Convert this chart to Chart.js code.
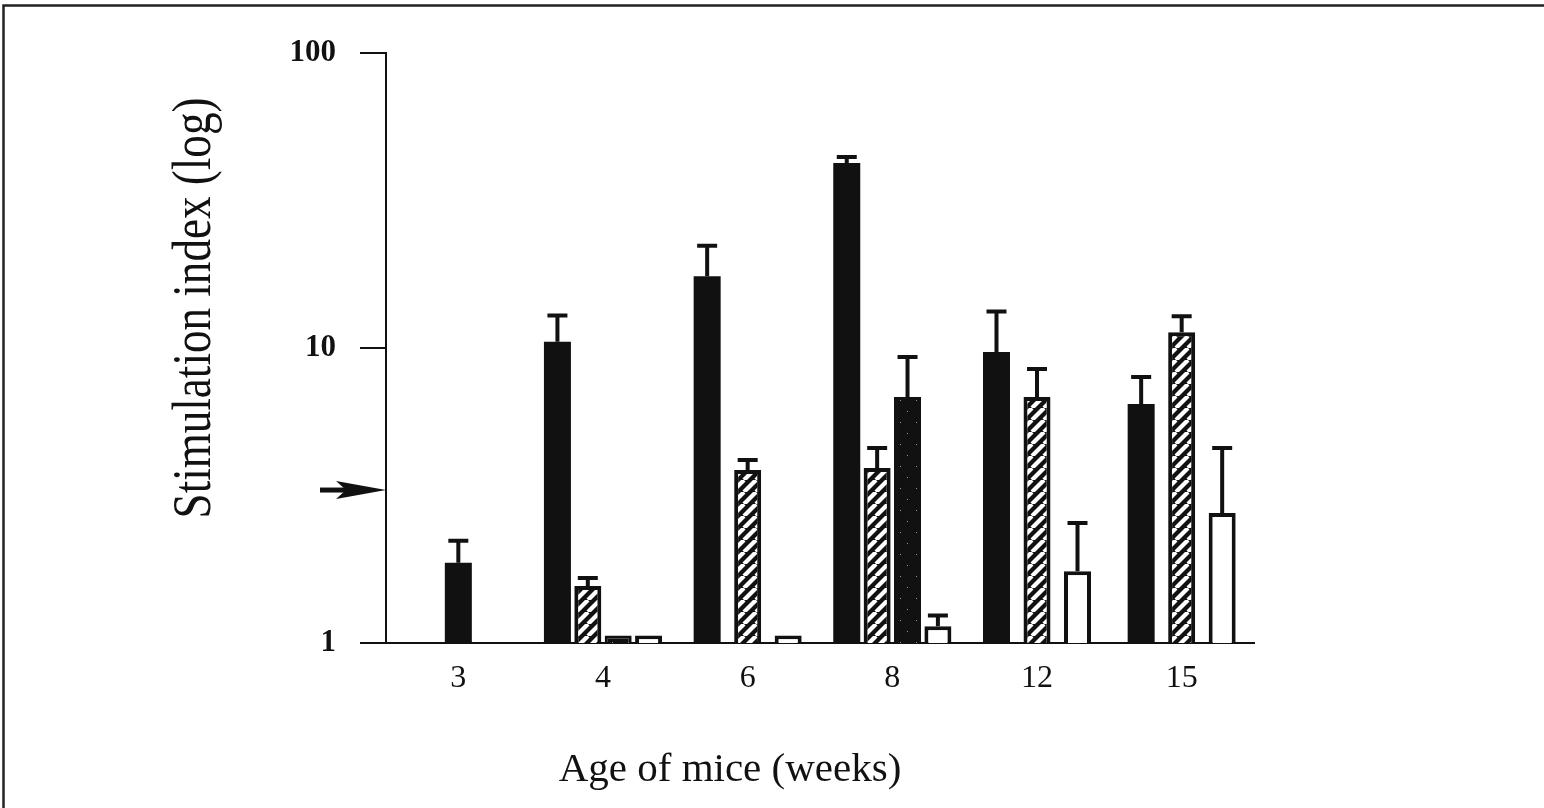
<!DOCTYPE html>
<html>
<head>
<meta charset="utf-8">
<title>Stimulation index by age of mice</title>
<script src="https://cdn.jsdelivr.net/npm/chart.js@4.4.1/dist/chart.umd.min.js"></script>
<style>
  html, body { margin: 0; padding: 0; background: #fff; }
  #chartContainer { position: relative; width: 1544px; height: 808px; }
</style>
</head>
<body>
<div id="chartContainer"><canvas id="stimChart"></canvas></div>
<script>
// Data (log scale, base 1)
const ageLabels = ["3", "4", "6", "8", "12", "15"];

const solidValues   = [1.87, 10.5, 17.5, 42.4, 9.69, 6.46];
const solidErrTop   = [2.22, 12.9, 22.2, 44.4, 13.3, 7.97];

const hatchedValues = [null, 1.56, 3.86, 3.92, 6.82, 11.3];
const hatchedErrTop = [null, 1.66, 4.17, 4.58, 8.49, 12.8];

const dottedValues  = [null, 1.06, null, 6.82, null, null];
const dottedErrTop  = [null, null, null, 9.32, null, null];

const openValues    = [null, 1.06, 1.06, 1.14, 1.75, 2.76];
const openErrTop    = [null, null, null, 1.24, 2.55, 4.58];

const yTickValues = [1, 10, 100];
const thresholdValue = 3.3; // arrow on the y axis

const yTitle = "Stimulation index (log)";
const xTitle = "Age of mice (weeks)";

const INK = "#111";
const SERIF = "'Liberation Serif', 'DejaVu Serif', serif";

// Fill patterns
function makeHatch() {
    const s = 12;
    const c = document.createElement("canvas");
    c.width = s; c.height = s;
    const g = c.getContext("2d");
    g.fillStyle = INK;
    g.fillRect(0, 0, s, s);
    g.strokeStyle = "#fff";
    g.lineWidth = 4.2;
    for (let k = -1; k <= 1; k++) {
        g.beginPath();
        g.moveTo(k * s, s);
        g.lineTo(k * s + s, 0);
        g.stroke();
    }
    return g.createPattern(c, "repeat");
}

function makeDots() {
    const c = document.createElement("canvas");
    c.width = 16; c.height = 22;
    const g = c.getContext("2d");
    g.fillStyle = INK;
    g.fillRect(0, 0, 16, 22);
    g.fillStyle = "#999";
    g.fillRect(4, 4, 1, 1);
    g.fillRect(11, 15, 1, 1);
    return g.createPattern(c, "repeat");
}

const errorTops = [solidErrTop, hatchedErrTop, dottedErrTop, openErrTop];

// Page frame
const framePlugin = {
    id: "frame",
    beforeDraw(chart) {
        const ctx = chart.ctx;
        ctx.save();
        ctx.fillStyle = "#fff";
        ctx.fillRect(0, 0, chart.width, chart.height);
        ctx.strokeStyle = "#222";
        ctx.lineWidth = 2.5;
        ctx.beginPath();
        ctx.moveTo(3.5, chart.height);
        ctx.lineTo(3.5, 5.5);
        ctx.lineTo(chart.width, 5.5);
        ctx.stroke();
        ctx.restore();
    }
};

// One-sided error bars
const errorBarPlugin = {
    id: "errorBars",
    afterDatasetsDraw(chart) {
        const ctx = chart.ctx;
        const yScale = chart.scales.y;
        ctx.save();
        ctx.strokeStyle = INK;
        ctx.lineWidth = 4;
        errorTops.forEach((tops, di) => {
            const meta = chart.getDatasetMeta(di);
            const values = chart.data.datasets[di].data;
            meta.data.forEach((bar, i) => {
                if (values[i] == null || tops[i] == null) return;
                const yTop = yScale.getPixelForValue(tops[i]);
                ctx.beginPath();
                ctx.moveTo(bar.x, bar.y);
                ctx.lineTo(bar.x, yTop);
                ctx.moveTo(bar.x - 10, yTop);
                ctx.lineTo(bar.x + 10, yTop);
                ctx.stroke();
            });
        });
        ctx.restore();
    }
};

// Axis titles and threshold arrow
const annotationPlugin = {
    id: "annotations",
    afterDraw(chart) {
        const ctx = chart.ctx;
        const area = chart.chartArea;
        const yScale = chart.scales.y;
        ctx.save();
        ctx.fillStyle = INK;

        // y title (condensed serif, as in the scan)
        ctx.translate(196, 308);
        ctx.rotate(-Math.PI / 2);
        ctx.scale(0.82, 1);
        ctx.font = "55px " + SERIF;
        ctx.textAlign = "center";
        ctx.textBaseline = "middle";
        ctx.fillText(yTitle, 0, 0);
        ctx.setTransform(1, 0, 0, 1, 0, 0);

        // x title
        ctx.font = "41px " + SERIF;
        ctx.textAlign = "center";
        ctx.textBaseline = "middle";
        ctx.fillText(xTitle, 730, 770);

        // arrow
        const ay = yScale.getPixelForValue(thresholdValue);
        const tip = area.left;
        ctx.strokeStyle = INK;
        ctx.lineWidth = 5;
        ctx.beginPath();
        ctx.moveTo(tip - 66, ay);
        ctx.lineTo(tip - 36, ay);
        ctx.stroke();
        ctx.beginPath();
        ctx.moveTo(tip, ay);
        ctx.lineTo(tip - 50, ay - 9);
        ctx.lineTo(tip - 40, ay);
        ctx.lineTo(tip - 50, ay + 9);
        ctx.closePath();
        ctx.fill();
        ctx.restore();
    }
};

const data = {
    labels: ageLabels,
    datasets: [
        { label: "solid", data: solidValues, backgroundColor: INK, borderWidth: 0 },
        { label: "hatched", data: hatchedValues, backgroundColor: makeHatch(), borderColor: INK, borderWidth: 4 },
        { label: "dotted", data: dottedValues, backgroundColor: makeDots(), borderColor: INK, borderWidth: 3 },
        { label: "open", data: openValues, backgroundColor: "#fff", borderColor: INK, borderWidth: 4 }
    ]
};

const options = {
    responsive: true,
    maintainAspectRatio: false,
    animation: false,
    datasets: {
        bar: {
            skipNull: true,
            categoryPercentage: 0.84,
            barPercentage: 0.9,
            maxBarThickness: 27,
            borderSkipped: "start"
        }
    },
    layout: { padding: { left: 286, right: 290, top: 53, bottom: 0 } },
    plugins: {
        legend: { display: false },
        tooltip: { enabled: false }
    },
    scales: {
        x: {
            type: "category",
            afterFit: s => { s.height = 165; },
            grid: { display: false },
            border: { display: true, color: INK, width: 2 },
            ticks: {
                color: INK,
                padding: 8,
                font: { family: SERIF, size: 32 }
            }
        },
        y: {
            type: "logarithmic",
            min: 1,
            max: 100,
            afterBuildTicks: s => { s.ticks = yTickValues.map(v => ({ value: v })); },
            afterFit: s => { s.width = 100; },
            grid: { drawOnChartArea: false, drawTicks: true, tickLength: 26, color: INK, lineWidth: 2 },
            border: { display: true, color: INK, width: 2 },
            ticks: {
                color: INK,
                padding: 24,
                font: { family: SERIF, size: 31, weight: "bold" },
                callback: v => String(v)
            }
        }
    }
};

const ctx = document.getElementById("stimChart").getContext("2d");
new Chart(ctx, {
    type: "bar",
    data: data,
    options: options,
    plugins: [framePlugin, errorBarPlugin, annotationPlugin]
});
</script>
</body>
</html>
